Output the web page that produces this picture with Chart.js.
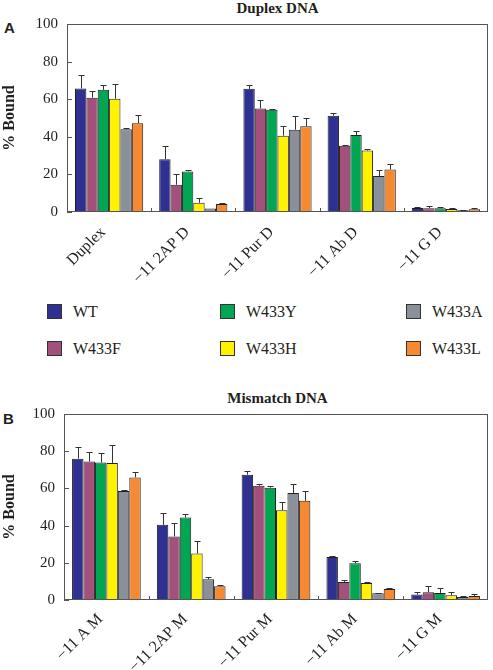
<!DOCTYPE html>
<html lang="en">
<head>
    <meta charset="UTF-8">
    <title>% Bound - Duplex and Mismatch DNA</title>
    <script src="https://cdn.jsdelivr.net/npm/chart.js"></script>
    <style>
        body {
            margin: 0;
            background: #fff;
            font-family: "Liberation Serif", "Times New Roman", serif;
            color: #231f20;
        }

        .page {
            position: relative;
            width: 493px;
            height: 670px;
            overflow: hidden;
        }

        .page canvas {
            position: absolute;
            left: 0;
        }

        .title {
            position: absolute;
            left: 67px;
            width: 421px;
            text-align: center;
            font-weight: bold;
            font-size: 15px;
            line-height: 16px;
        }

        .letter {
            position: absolute;
            font-family: "Liberation Sans", Arial, sans-serif;
            font-weight: bold;
            font-size: 15px;
            line-height: 16px;
        }

        #legend {
            position: absolute;
            left: 47px;
            top: 293px;
            display: grid;
            grid-template-columns: 173px 186px 80px;
            grid-template-rows: 37px 37px;
            grid-auto-flow: column;
            align-items: center;
            font-family: "Liberation Serif", "Times New Roman", serif;
            font-size: 16px;
        }

        #legend .item {
            display: flex;
            align-items: center;
        }

        #legend .swatch {
            width: 13px;
            height: 13px;
            border: 1px solid #333;
            margin-right: 11px;
        }
    </style>
</head>

<body>
    <div class="page">
        <div class="title" style="top: 0px;">Duplex DNA</div>
        <div class="letter" style="left: 4px; top: 20px;">A</div>
        <canvas id="duplexChart" width="493" height="290" style="top: 0px;"></canvas>

        <div id="legend"></div>

        <div class="title" style="top: 390px;">Mismatch DNA</div>
        <div class="letter" style="left: 3px; top: 411px;">B</div>
        <canvas id="mismatchChart" width="493" height="290" style="top: 380px;"></canvas>
    </div>

    <script>
        // series (proteins) and their colours
        const seriesNames = ['WT', 'W433F', 'W433Y', 'W433H', 'W433A', 'W433L'];
        const seriesColors = ['#2e3192', '#a3507c', '#00a651', '#fff200', '#8a9099', '#f58a33'];

        // Panel A - duplex DNA
        const duplexLabels = ['Duplex', '\u221211 2AP D', '\u221211 Pur D', '\u221211 Ab D', '\u221211 G D'];
        const duplexWT = [65.7, 28.1, 65.5, 51.2, 2.1];
        const duplexW433F = [60.8, 14.5, 55.1, 35.2, 2.0];
        const duplexW433Y = [65.0, 21.6, 54.4, 41.0, 2.0];
        const duplexW433H = [60.2, 4.9, 40.6, 32.7, 1.6];
        const duplexW433A = [44.0, 1.9, 43.8, 19.1, 0.9];
        const duplexW433L = [47.2, 4.2, 45.6, 22.6, 1.4];
        // upper error (amount above the bar)
        const duplexErrWT = [7.4, 7.1, 2.2, 1.6, 0.5];
        const duplexErrW433F = [3.5, 5.8, 4.6, 0.5, 1.2];
        const duplexErrW433Y = [2.3, 0.7, 0.3, 2.3, 0.8];
        const duplexErrW433H = [8.0, 2.7, 5.3, 1.0, 0.3];
        const duplexErrW433A = [0.5, 0, 7.4, 3.0, 0.2];
        const duplexErrW433L = [4.6, 0.4, 4.2, 3.0, 0.7];

        // Panel B - mismatch DNA
        const mismatchLabels = ['\u221211 A M', '\u221211 2AP M', '\u221211 Pur M', '\u221211 Ab M', '\u221211 G M'];
        const mismatchWT = [76.0, 40.4, 67.4, 23.1, 2.9];
        const mismatchW433F = [74.4, 34.2, 61.4, 9.7, 4.1];
        const mismatchW433Y = [73.9, 44.3, 60.4, 19.8, 3.8];
        const mismatchW433H = [73.7, 25.0, 48.3, 9.2, 2.5];
        const mismatchW433A = [58.6, 11.2, 57.5, 3.6, 1.6];
        const mismatchW433L = [65.9, 7.4, 53.3, 5.9, 2.2];
        const mismatchErrWT = [6.3, 6.4, 2.1, 0.3, 1.2];
        const mismatchErrW433F = [5.2, 7.2, 1.1, 1.1, 3.3];
        const mismatchErrW433Y = [5.2, 2.0, 1.0, 1.3, 2.7];
        const mismatchErrW433H = [9.5, 6.5, 4.5, 0.7, 1.6];
        const mismatchErrW433A = [0.5, 0.9, 5.0, 0.3, 0.7];
        const mismatchErrW433L = [2.9, 0.9, 5.3, 0.6, 0.9];

        const duplexValues = [duplexWT, duplexW433F, duplexW433Y, duplexW433H, duplexW433A, duplexW433L];
        const duplexErrors = [duplexErrWT, duplexErrW433F, duplexErrW433Y, duplexErrW433H, duplexErrW433A, duplexErrW433L];
        const mismatchValues = [mismatchWT, mismatchW433F, mismatchW433Y, mismatchW433H, mismatchW433A, mismatchW433L];
        const mismatchErrors = [mismatchErrWT, mismatchErrW433F, mismatchErrW433Y, mismatchErrW433H, mismatchErrW433A, mismatchErrW433L];

        const serif = '"Liberation Serif", "Times New Roman", serif';
        const inkColor = '#231f20';

        // box around plot, inward ticks and the one-sided error bars
        const framePlugin = {
            id: 'frame',
            afterDatasetsDraw(chart) {
                const { ctx, chartArea: a, scales: { x, y } } = chart;
                ctx.save();
                ctx.lineWidth = 1;
                ctx.strokeStyle = '#333';
                chart.data.datasets.forEach((ds, di) => {
                    const meta = chart.getDatasetMeta(di);
                    meta.data.forEach((bar, i) => {
                        const e = ds.errors[i];
                        if (!e) return;
                        const top = Math.round(y.getPixelForValue(ds.data[i] + e)) + 0.5;
                        const bx = Math.round(bar.x) + 0.5;
                        ctx.beginPath();
                        ctx.moveTo(bx, bar.y);
                        ctx.lineTo(bx, top);
                        ctx.moveTo(bx - 3, top);
                        ctx.lineTo(bx + 3, top);
                        ctx.stroke();
                    });
                });

                ctx.strokeStyle = '#555';
                ctx.strokeRect(Math.round(a.left) + 0.5, Math.round(a.top) + 0.5, Math.round(a.width) - 1, Math.round(a.height) - 1);

                ctx.beginPath();
                y.ticks.forEach(t => {
                    const py = Math.round(y.getPixelForValue(t.value)) + 0.5;
                    ctx.moveTo(a.left, py);
                    ctx.lineTo(a.left + 5, py);
                });
                for (let i = 0; i < x.ticks.length - 1; i++) {
                    const px = Math.round((x.getPixelForValue(i) + x.getPixelForValue(i + 1)) / 2) + 0.5;
                    ctx.moveTo(px, a.bottom);
                    ctx.lineTo(px, a.bottom - 4);
                }
                ctx.stroke();
                ctx.restore();
            }
        };

        function buildDatasets(values, errors) {
            return seriesNames.map((name, i) => ({
                label: name,
                data: values[i],
                errors: errors[i],
                backgroundColor: seriesColors[i],
                borderColor: '#231f20',
                borderWidth: 1,
                categoryPercentage: 0.81,
                barPercentage: 1.0,
            }));
        }

        function makeChart(id, labels, values, errors, padTop, xHeight, yWidth, labelPad) {
            const ctx = document.getElementById(id).getContext('2d');
            return new Chart(ctx, {
                type: 'bar',
                data: {
                    labels: labels,
                    datasets: buildDatasets(values, errors),
                },
                options: {
                    responsive: false,
                    animation: false,
                    layout: { padding: { top: padTop, right: 5, left: 0, bottom: 0 } },
                    plugins: {
                        legend: { display: false },
                        tooltip: { enabled: false },
                    },
                    scales: {
                        x: {
                            grid: { display: false, drawTicks: false },
                            border: { display: false },
                            ticks: {
                                font: { family: serif, size: 16 },
                                color: inkColor,
                                minRotation: 45,
                                maxRotation: 45,
                                autoSkip: false,
                                padding: labelPad,
                                labelOffset: -6,
                            },
                            afterFit: s => { s.height = xHeight; },
                        },
                        y: {
                            min: 0,
                            max: 100,
                            grid: { display: false, drawTicks: false },
                            border: { display: false },
                            ticks: {
                                stepSize: 20,
                                font: { family: serif, size: 15 },
                                color: inkColor,
                                padding: 9,
                            },
                            title: {
                                display: true,
                                text: '% Bound',
                                font: { family: serif, size: 16, weight: 'bold' },
                                color: inkColor,
                                padding: 0,
                            },
                            afterFit: s => { s.width = yWidth; },
                        }
                    }
                },
                plugins: [framePlugin]
            });
        }

        makeChart('duplexChart', duplexLabels, duplexValues, duplexErrors, 24, 78, 67, 11);
        makeChart('mismatchChart', mismatchLabels, mismatchValues, mismatchErrors, 34, 70, 64, 10);

        // shared legend, two rows, filled column by column
        const legend = document.getElementById('legend');
        seriesNames.forEach((name, i) => {
            const item = document.createElement('div');
            item.className = 'item';
            item.innerHTML = `<span class="swatch" style="background:${seriesColors[i]}"></span><span>${name}</span>`;
            legend.appendChild(item);
        });
    </script>
</body>
</html>
